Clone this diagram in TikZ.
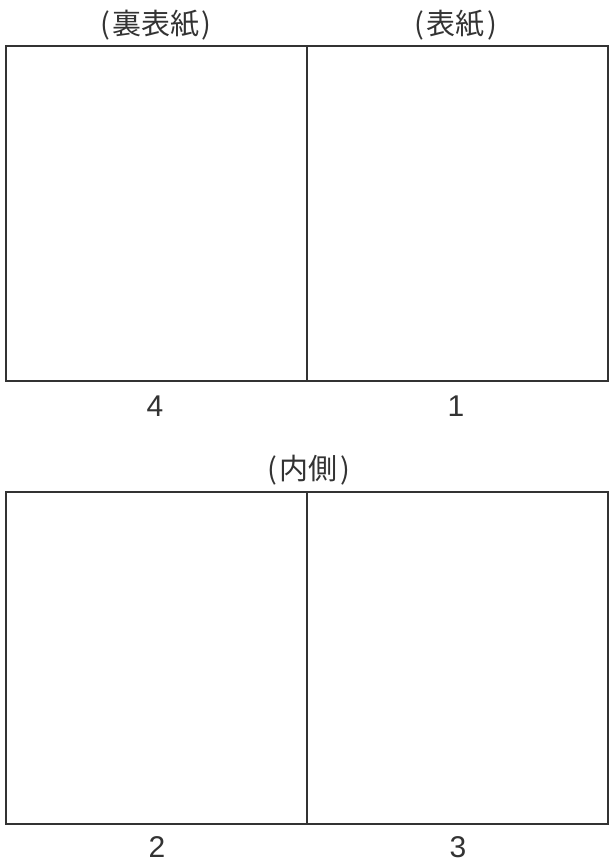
\documentclass[tikz,border=0pt]{standalone}
\usepackage{fontspec}
\newfontfamily\jp{Noto Sans CJK JP}
\newfontfamily\num{Liberation Sans}
\newcommand{\pgap}{\hspace{2.5pt}}
\begin{document}
\begin{tikzpicture}[x=1pt,y=-1pt,
  panel/.style={draw=black!80, line width=1.6pt, minimum width=301pt, inner sep=0pt, outer sep=0pt},
  jplabel/.style={font=\jp\fontsize{29}{29}\selectfont, text=black!80, inner sep=0pt},
  numlabel/.style={font=\num\fontsize{30}{30}\selectfont, text=black!80, inner sep=0pt}]
\useasboundingbox (0,0) rectangle (608,867);
% top sheet
\node[panel, minimum height=335pt, anchor=north west] (p4) at (6,46) {};
\node[panel, minimum height=335pt, anchor=north west] (p1) at (307,46) {};
% bottom sheet
\node[panel, minimum height=332pt, anchor=north west] (p2) at (6,492) {};
\node[panel, minimum height=332pt, anchor=north west] (p3) at (307,492) {};
% labels
\node[jplabel] (l4) at (156,25) {(\pgap 裏表紙\pgap)};
\node[jplabel] (l1) at (456,25) {(\pgap 表紙\pgap)};
\node[jplabel] (lin) at (309,470) {(\pgap 内側\pgap)};
\node[numlabel] (n4) at (155,406) {4};
\node[numlabel] (n1) at (456,406) {1};
\node[numlabel] (n2) at (157,847) {2};
\node[numlabel] (n3) at (458,847) {3};
\end{tikzpicture}
\end{document}
